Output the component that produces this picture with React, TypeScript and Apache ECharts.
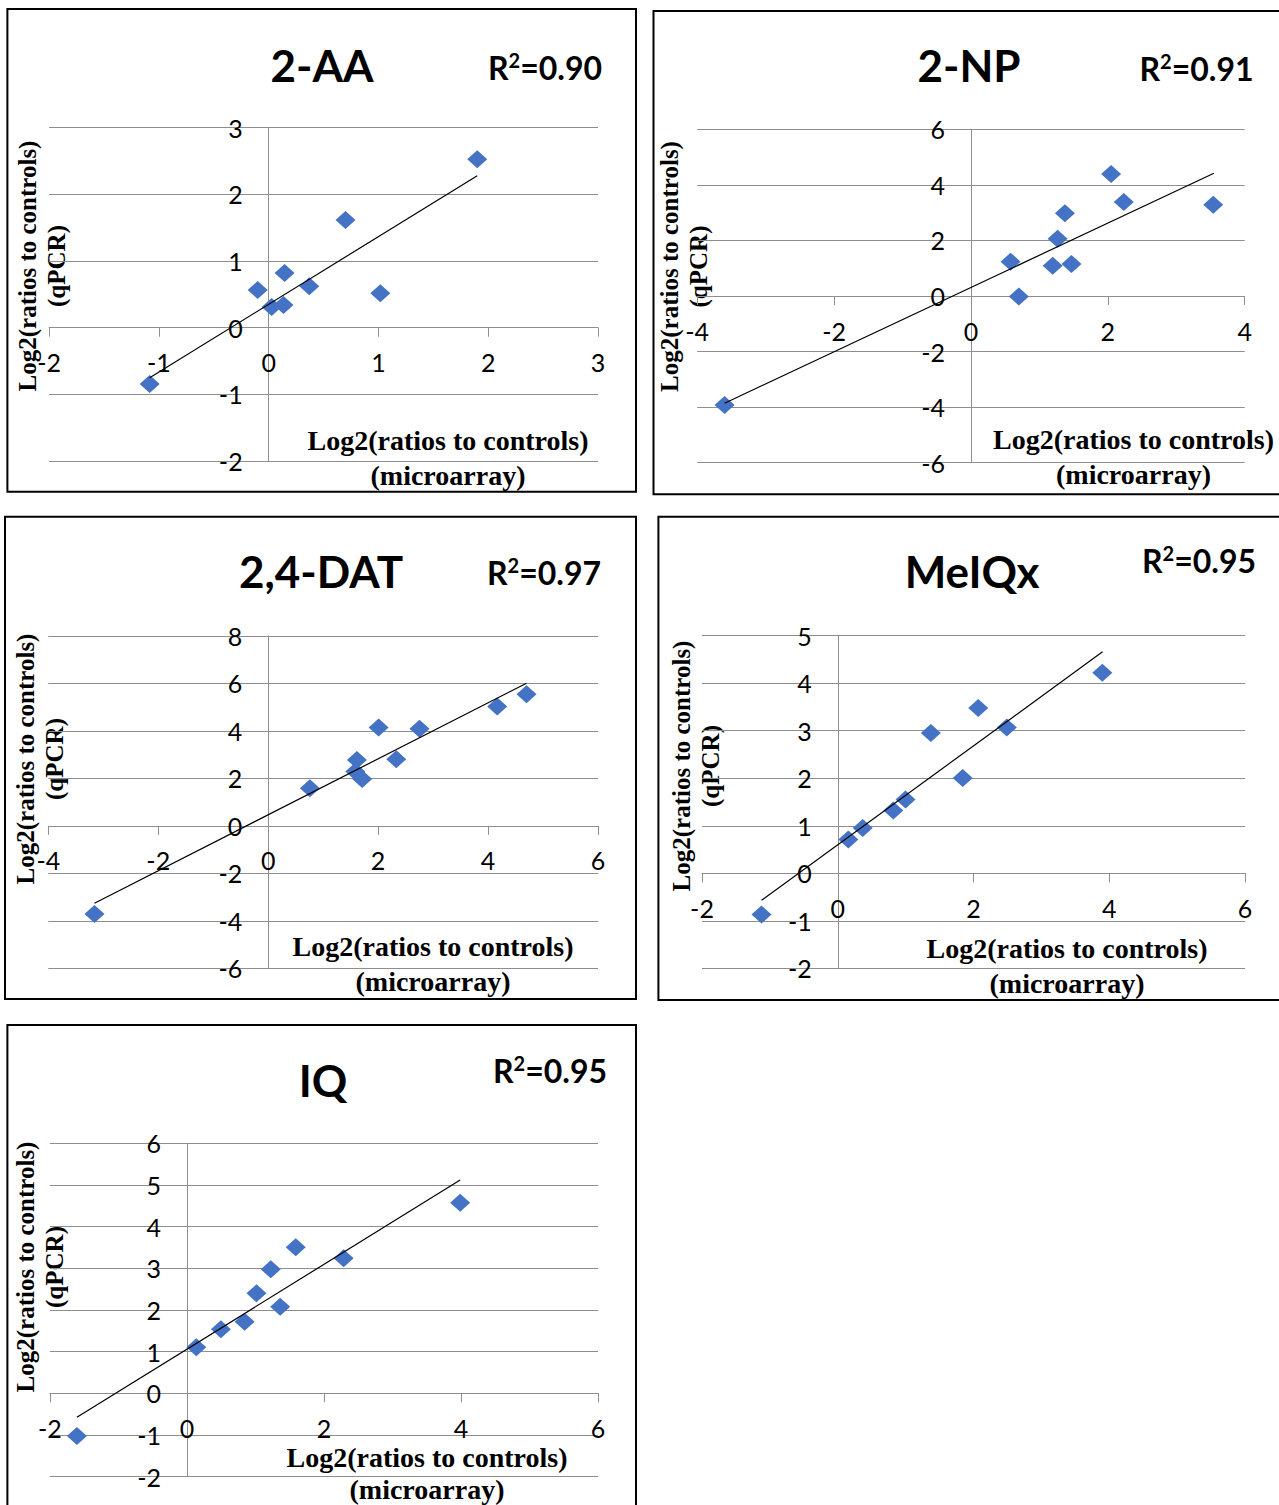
import React, { useEffect, useRef } from "react";
import * as echarts from "echarts";

// ---------- data ----------
const titles = ["2-AA", "2-NP", "2,4-DAT", "MeIQx", "IQ"];
const r2Values = ["0.90", "0.91", "0.97", "0.95", "0.95"];
const xAxisTitle = ["Log2(ratios to controls)", "(microarray)"];
const yAxisTitle = ["Log2(ratios to controls)", "(qPCR)"];

// [min, max, interval]
const xTicks = [
  [-2, 3, 1],
  [-4, 4, 2],
  [-4, 6, 2],
  [-2, 6, 2],
  [-2, 6, 2],
];
const yTicks = [
  [-2, 3, 1],
  [-6, 6, 2],
  [-6, 8, 2],
  [-2, 5, 1],
  [-2, 6, 1],
];

const aaX = [-1.084, -0.1, 0.027, 0.135, 0.145, 0.37, 0.7, 1.017, 1.9];
const aaY = [-0.845, 0.566, 0.31, 0.34, 0.82, 0.62, 1.617, 0.516, 2.528];
const aaTrend = [[-1.084, -0.75], [1.9, 2.28]];

const npX = [-3.6, 0.579, 0.7, 1.194, 1.266, 1.373, 1.469, 2.048, 2.233, 3.54];
const npY = [-3.92, 1.236, -0.02, 1.09, 2.06, 2.98, 1.15, 4.39, 3.38, 3.28];
const npTrend = [[-3.6, -3.86], [3.55, 4.42]];

const datX = [-3.16, 0.759, 1.614, 1.585, 1.71, 2.009, 2.33, 2.753, 4.167, 4.7];
const datY = [-3.71, 1.59, 2.78, 2.29, 1.98, 4.14, 2.81, 4.09, 5.03, 5.55];
const datTrend = [[-3.16, -3.26], [4.7, 6.01]];

const meX = [-1.124, 0.156, 0.367, 0.818, 0.998, 1.371, 1.84, 2.069, 2.49, 3.897];
const meY = [-0.87, 0.71, 0.954, 1.32, 1.55, 2.95, 2.007, 3.48, 3.07, 4.22];
const meTrend = [[-1.124, -0.57], [3.9, 4.66]];

const iqX = [-1.606, 0.137, 0.496, 0.842, 1.015, 1.224, 1.361, 1.588, 2.287, 3.988];
const iqY = [-1.024, 1.104, 1.536, 1.72, 2.4, 2.976, 2.08, 3.504, 3.24, 4.576];
const iqTrend = [[-1.606, -0.576], [3.988, 5.12]];

const seriesX = [aaX, npX, datX, meX, iqX];
const seriesY = [aaY, npY, datY, meY, iqY];
const trends = [aaTrend, npTrend, datTrend, meTrend, iqTrend];

// ---------- layout ----------
const layout = [
  { border: [7.4, 9, 628.6, 482.7], grid: [49.1, 127.7, 548.9, 333.3], title: [322, 65], r2: [545, 67], xName: [448, 457.5], xLine: 35, yName: [41.5, 266] },
  { border: [653.5, 11, 650, 483.3], grid: [697.2, 129.3, 547.5, 333.4], title: [969, 65], r2: [1196.5, 68], xName: [1133.5, 456.5], xLine: 35, yName: [684, 266.5] },
  { border: [5, 516.7, 631, 482.3], grid: [48.3, 636, 549.7, 332.3], title: [321, 571], r2: [544, 572], xName: [433, 964], xLine: 35, yName: [40, 759] },
  { border: [658.4, 516.7, 650, 483.3], grid: [702, 635.7, 543.1, 332.6], title: [972, 571], r2: [1199, 560], xName: [1067, 966], xLine: 35, yName: [696, 766] },
  { border: [7.4, 1025, 628.6, 500], grid: [49.9, 1143.3, 548.1, 333.4], title: [323, 1080], r2: [550, 1070], xName: [427, 1473], xLine: 32, yName: [39.5, 1267] },
];

const GRID_COLOR = "#8e8e8e";
const MARKER = "#4472C4";
const SANS = "Lato, 'Open Sans', sans-serif";
const SERIF = "'Liberation Serif', 'DejaVu Serif', serif";

function buildOption() {
  const grid: any[] = [];
  const xAxis: any[] = [];
  const yAxis: any[] = [];
  const series: any[] = [];
  const graphic: any[] = [];

  layout.forEach((p, i) => {
    const [gx, gy, gw, gh] = p.grid;
    const [xmin, xmax, xint] = xTicks[i];
    const [ymin, ymax, yint] = yTicks[i];
    // place each axis on the other axis' zero, the way the chart draws them
    const xOffset = -((0 - ymin) / (ymax - ymin)) * gh;
    const yOffset = -((0 - xmin) / (xmax - xmin)) * gw;

    grid.push({ left: gx, top: gy, width: gw, height: gh, containLabel: false });
    xAxis.push({
      type: "value",
      gridIndex: i,
      position: "bottom",
      offset: xOffset,
      min: xmin,
      max: xmax,
      interval: xint,
      axisLine: { show: true, onZero: false, lineStyle: { color: GRID_COLOR, width: 1 } },
      axisTick: { show: true, length: 9, lineStyle: { color: GRID_COLOR, width: 1 } },
      axisLabel: { fontFamily: SANS, fontSize: 25, color: "#000", margin: 22, showMinLabel: true, showMaxLabel: true, hideOverlap: false },
      splitLine: { show: false },
    });
    yAxis.push({
      type: "value",
      gridIndex: i,
      position: "left",
      offset: yOffset,
      min: ymin,
      max: ymax,
      interval: yint,
      axisLine: { show: true, onZero: false, lineStyle: { color: GRID_COLOR, width: 1 } },
      axisTick: { show: false },
      axisLabel: { fontFamily: SANS, fontSize: 25, color: "#000", margin: 26, showMinLabel: true, showMaxLabel: true, hideOverlap: false },
      splitLine: { show: true, lineStyle: { color: GRID_COLOR, width: 1 } },
    });
    series.push({
      type: "scatter",
      xAxisIndex: i,
      yAxisIndex: i,
      symbol: "diamond",
      symbolSize: [20, 18],
      itemStyle: { color: MARKER, opacity: 1 },
      data: seriesX[i].map((x, k) => [x, seriesY[i][k]]),
      z: 3,
    });
    series.push({
      type: "line",
      xAxisIndex: i,
      yAxisIndex: i,
      symbol: "none",
      lineStyle: { color: "#000", width: 1.2 },
      data: trends[i],
      z: 4,
    });

    graphic.push({
      type: "rect",
      shape: { x: p.border[0], y: p.border[1], width: p.border[2], height: p.border[3] },
      style: { fill: "none", stroke: "#000", lineWidth: 2 },
    });
    graphic.push({
      type: "text",
      x: p.title[0],
      y: p.title[1],
      style: {
        text: titles[i],
        fontFamily: SANS,
        fontWeight: "bold",
        fontSize: 44,
        fill: "#000",
        align: "center",
        verticalAlign: "middle",
      },
    });
    graphic.push({
      type: "text",
      x: p.r2[0],
      y: p.r2[1],
      style: {
        text: "{a|R}{b|2}{a|=" + r2Values[i] + "}",
        align: "center",
        verticalAlign: "middle",
        rich: {
          a: { fontFamily: SANS, fontWeight: "bold", fontSize: 32, fill: "#000", lineHeight: 35, verticalAlign: "middle" },
          b: { fontFamily: SANS, fontWeight: "bold", fontSize: 20, fill: "#000", verticalAlign: "top" },
        },
      },
    });
    graphic.push({
      type: "text",
      x: p.xName[0],
      y: p.xName[1],
      style: {
        text: xAxisTitle.join("\n"),
        fontFamily: SERIF,
        fontWeight: "bold",
        fontSize: 28,
        lineHeight: p.xLine,
        fill: "#000",
        align: "center",
        verticalAlign: "middle",
      },
    });
    graphic.push({
      type: "text",
      x: p.yName[0],
      y: p.yName[1],
      rotation: Math.PI / 2,
      style: {
        text: yAxisTitle.join("\n"),
        fontFamily: SERIF,
        fontWeight: "bold",
        fontSize: 25,
        lineHeight: 29,
        fill: "#000",
        align: "center",
        verticalAlign: "middle",
      },
    });
  });

  return { animation: false, backgroundColor: "#fff", grid, xAxis, yAxis, series, graphic };
}

export default function App() {
  const ref = useRef<HTMLDivElement>(null);
  useEffect(() => {
    if (!ref.current) return;
    const chart = echarts.init(ref.current, null, { renderer: "svg" });
    chart.setOption(buildOption());
    return () => chart.dispose();
  }, []);
  return (
    <div
      ref={ref}
      style={{ position: "absolute", left: 0, top: 0, width: 1279, height: 1505, background: "#fff" }}
    />
  );
}
